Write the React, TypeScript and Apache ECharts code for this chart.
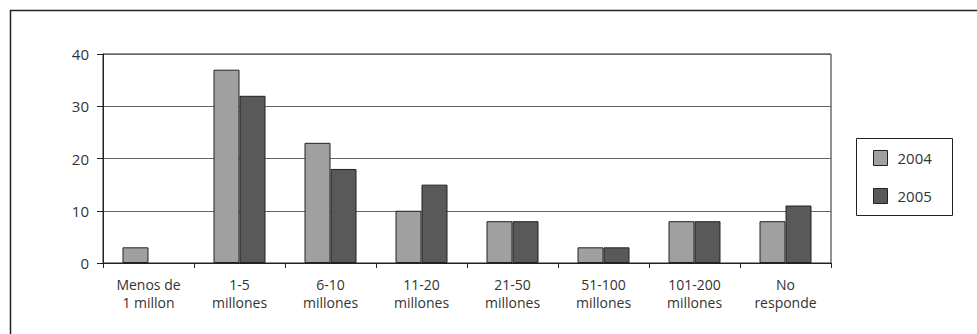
import React, { useEffect, useRef } from "react";
import * as echarts from "echarts";

const categories = [
  "Menos de\n1 millon",
  "1-5\nmillones",
  "6-10\nmillones",
  "11-20\nmillones",
  "21-50\nmillones",
  "51-100\nmillones",
  "101-200\nmillones",
  "No\nresponde",
];
const values2004: (number | null)[] = [3, 37, 23, 10, 8, 3, 8, 8];
const values2005: (number | null)[] = [null, 32, 18, 15, 8, 3, 8, 11];
const seriesNames = ["2004", "2005"];
const yTicks = { min: 0, max: 40, interval: 10 };

const FONT = "'Open Sans', 'DejaVu Sans', sans-serif";
const TEXT = "#333";
const EDGE = "#222";

export default function App() {
  const ref = useRef<HTMLDivElement>(null);

  useEffect(() => {
    if (!ref.current) return;
    const chart = echarts.init(ref.current, undefined, { renderer: "svg" });
    chart.setOption({
      animation: false,
      backgroundColor: "#fff",
      textStyle: { fontFamily: FONT },
      grid: {
        left: 103,
        right: 146,
        top: 54,
        bottom: 71,
        show: true,
        borderColor: EDGE,
        borderWidth: 1,
        backgroundColor: "transparent",
      },
      legend: {
        orient: "vertical",
        left: 873,
        top: 150,
        padding: 0,
        itemWidth: 14,
        itemHeight: 15,
        itemGap: 22,
        icon: "rect",
        itemStyle: { borderColor: EDGE, borderWidth: 1 },
        textStyle: { fontSize: 15, color: TEXT, fontFamily: FONT, padding: [0, 0, 0, 5] },
        data: seriesNames,
      },
      xAxis: {
        type: "category",
        data: categories,
        axisLine: { lineStyle: { color: EDGE, width: 1 } },
        axisTick: { show: true, length: 5, lineStyle: { color: EDGE } },
        axisLabel: {
          color: TEXT,
          fontSize: 14,
          fontFamily: FONT,
          lineHeight: 18,
          margin: 12,
          interval: 0,
        },
      },
      yAxis: {
        type: "value",
        min: yTicks.min,
        max: yTicks.max,
        interval: yTicks.interval,
        axisLine: { show: true, lineStyle: { color: EDGE, width: 1 } },
        axisTick: { show: true, length: 6, lineStyle: { color: EDGE } },
        axisLabel: { color: TEXT, fontSize: 15, fontFamily: FONT, margin: 14 },
        splitLine: { show: true, lineStyle: { color: "#666", width: 1 } },
      },
      series: [
        {
          name: seriesNames[0],
          type: "bar",
          data: values2004,
          barWidth: 26,
          barGap: "0%",
          itemStyle: { color: "#a0a0a0", borderColor: EDGE, borderWidth: 1 },
        },
        {
          name: seriesNames[1],
          type: "bar",
          data: values2005,
          barWidth: 26,
          barGap: "0%",
          itemStyle: { color: "#595959", borderColor: EDGE, borderWidth: 1 },
        },
      ],
      graphic: [
        {
          type: "line",
          shape: { x1: 10.5, y1: 10, x2: 10.5, y2: 334 },
          style: { stroke: EDGE, lineWidth: 1.5 },
          silent: true,
        },
        {
          type: "line",
          shape: { x1: 10, y1: 10.5, x2: 977, y2: 10.5 },
          style: { stroke: EDGE, lineWidth: 1.5 },
          silent: true,
        },
        {
          type: "rect",
          shape: { x: 856.5, y: 138.5, width: 96, height: 77 },
          style: { fill: "none", stroke: EDGE, lineWidth: 1 },
          silent: true,
        },
      ],
    });
    return () => chart.dispose();
  }, []);

  return (
    <div
      ref={ref}
      style={{ position: "absolute", left: 0, top: 0, width: 977, height: 334 }}
    />
  );
}
